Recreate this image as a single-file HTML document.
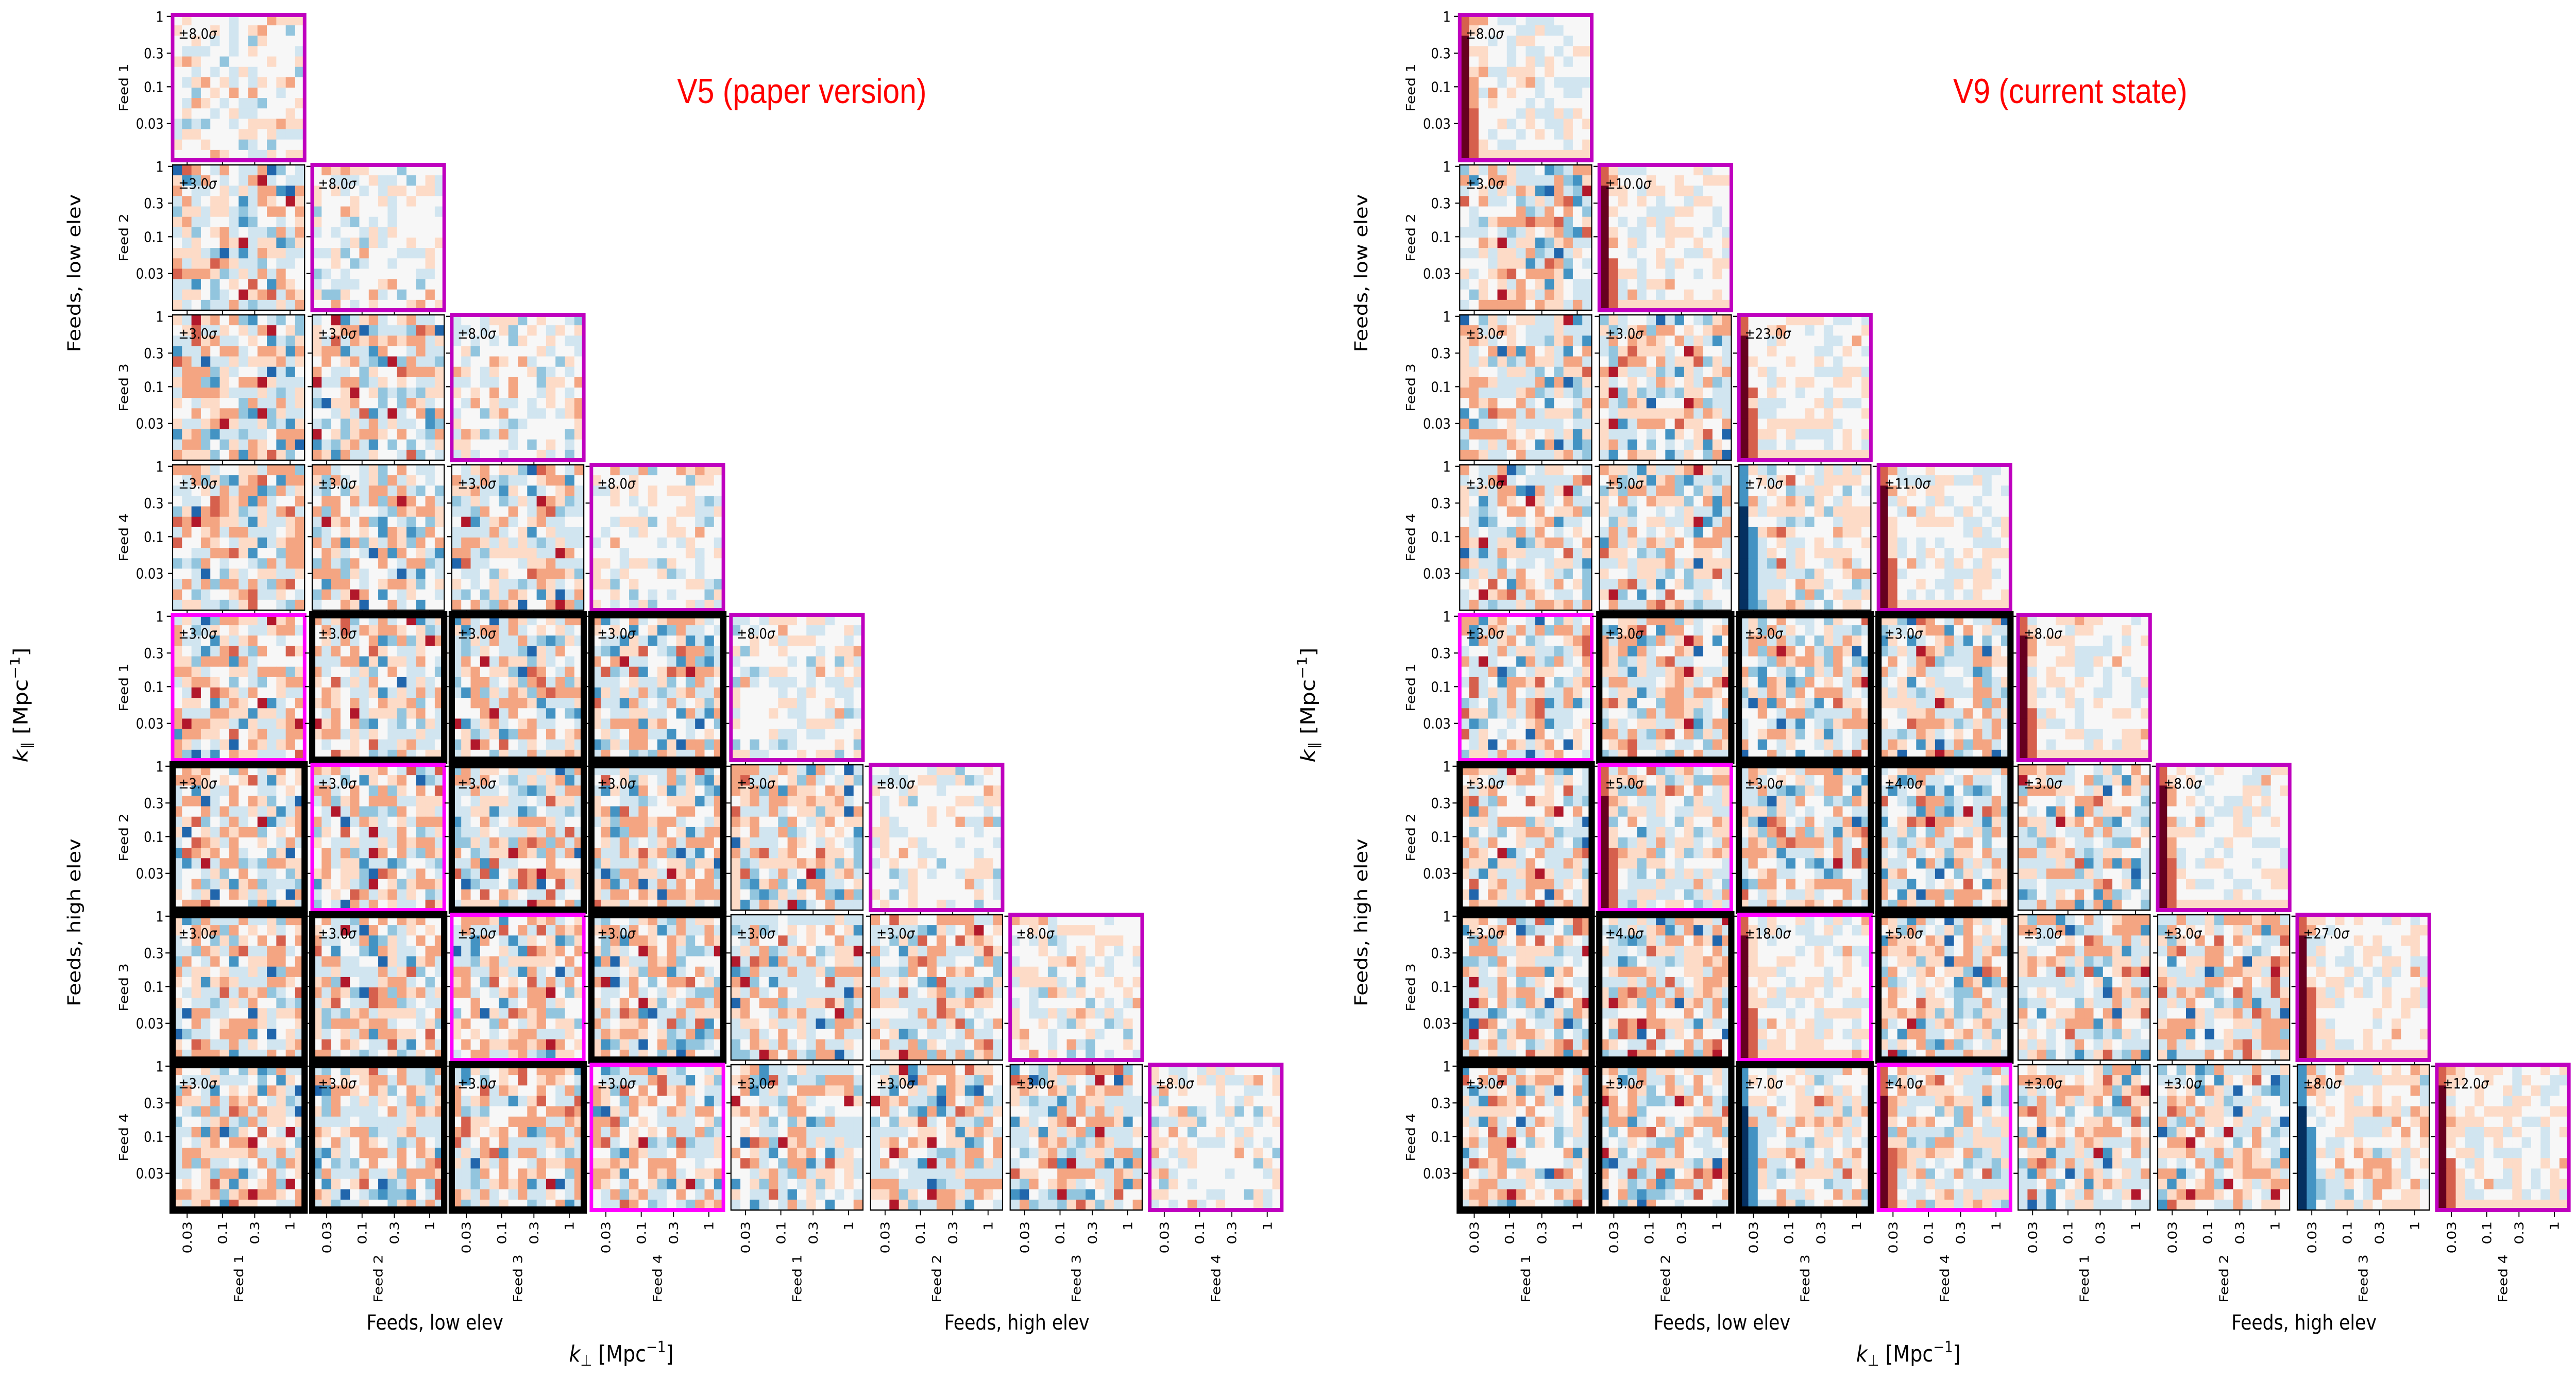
<!DOCTYPE html>
<html><head><meta charset="utf-8">
<style>
html,body{margin:0;padding:0;background:#fff;overflow:hidden;width:100vw;height:100vh;}
svg{display:block;width:100vw;height:100vh;font-family:"DejaVu Sans","Liberation Sans",sans-serif;}
</style></head>
<body>
<svg id="fig" xmlns="http://www.w3.org/2000/svg" viewBox="0 0 5776 2672" preserveAspectRatio="none">
<rect x="0" y="0" width="5776" height="2672" fill="#fff"/>
<text x="1798" y="200" font-family="Liberation Sans, sans-serif" font-size="68" fill="#ff0000" text-anchor="middle">V5 (paper version)</text>
<text x="4642" y="200" font-family="Liberation Sans, sans-serif" font-size="68" fill="#ff0000" text-anchor="middle">V9 (current state)</text>
</svg>
<script>
// ---- data ----
const feeds = ["Feed 1","Feed 2","Feed 3","Feed 4"];
const groupLabels = ["Feeds, low elev","Feeds, high elev"];
const yTickVals = [1, 0.3, 0.1, 0.03];
const yTickLabels = ["1","0.3","0.1","0.03"];
const xTickVals = [0.03, 0.1, 0.3, 1];
const xTickLabels = ["0.03","0.1","0.3","1"];
const sigmaV5 = [[8],[3,8],[3,3,8],[3,3,3,8],[3,3,3,3,8],[3,3,3,3,3,8],[3,3,3,3,3,3,8],[3,3,3,3,3,3,3,8]];
const sigmaV9 = [[8],[3,10],[3,3,23],[3,5,7,11],[3,3,3,3,8],[3,5,3,4,3,8],[3,4,18,5,3,3,27],[3,3,7,4,3,3,8,12]];
const patternV5 = ["L","NL","NNL","NNNL","NNNNL","NNNNNL","NNNNNNL","NNNNNNNL"];
const patternV9 = ["D","ND","NND","NNBD","NNNND","NRNNND","NNDNNND","NNBRNNBD"];
const noiseLevels = "fgehdfgiefhcgdfegjhdfeghcfdgeibfhgdfkegfdhcgefiahgdfegchfdgeihbfgedfhgjcdefgihdefcgfhbegidfhgecfkdgefhdgacfeighfdgebhfcgidefhgdjefgcdhfeigbfdhgecfgihdfaegfhdgjcefgdhifegbdhfcgefihdgkcfeghdbfigefhdcgjfedhgicfeghbdfgiehcfdgaefhgidcfjegdhfbgeifhdcgefkhgdfiebcghfdjegfhidcgefbhgdifeghcjdfgehibfdgcehfgadfeighdcfhgjebfdgihefcgdhkfegibdhfcgeifhdgjcefgbhdifegchfdagefhigdcbfjegh";
const palette = ["#053061","#2166ac","#4393c3","#92c5de","#d1e5f0","#f7f7f7","#fddbc7","#f4a582","#d6604d","#b2182b","#67001f"];

// ---- layout ----
const NS = "http://www.w3.org/2000/svg";
const svg = document.getElementById("fig");
const W = 296, H = 282, NC = 14;
const colLeft = c => 387 + 313*c;
const rowTop = r => 29 + 291*r;
const yFrac = v => 0.01 + (-Math.log10(v))/2.045*0.99;
const xFrac = v => 0.11 + (Math.log10(v) - Math.log10(0.03))/1.523*0.78;
function mk(tag, attrs, parent){const e=document.createElementNS(NS,tag);for(const k in attrs)e.setAttribute(k,attrs[k]);(parent||svg).appendChild(e);return e;}
const clamp = v => Math.max(-5, Math.min(5, v));

function cellValue(k, i, j, type){
  const ch = noiseLevels.charCodeAt((k*151 + i*29 + j*7 + ((i*j)%5)) % noiseLevels.length) - 97;
  let v = ch - 5;
  if (type === "L") return clamp(Math.round(v*0.4));
  if (type === "D") {
    if (j === 0) return i < 2 ? 3 : 5;
    if (j === 1) return i >= 9 ? 3 : clamp(Math.round(v*0.4)+1);
    let w = clamp(Math.round(v*0.3));
    if (i === 13 && w < 1) w = 1;
    return w;
  }
  if (type === "B") {
    if (j === 0) return i >= 4 ? -5 : -3;
    if (j === 1 && i >= 6) return -3;
    return clamp(Math.round(v*0.5));
  }
  if (type === "R") {
    if (j === 0) return i >= 3 ? 5 : 3;
    if (j === 1 && i >= 8) return 3;
    return clamp(Math.round(v*0.6));
  }
  return clamp(Math.round(v*0.75));
}

function drawPanel(px, sigma, pattern, pid){
  let k = 0;
  for (let r=0;r<8;r++){
    for (let c=0;c<=r;c++){
      const x = px + colLeft(c), y = rowTop(r);
      const type = pattern[r][c];
      const g = mk("g", {});
      
      
      const cw = W/NC, chh = H/NC;
      for (let i=0;i<NC;i++){
        for (let j=0;j<NC;j++){
          const v = cellValue(k + (pid==="v9"?37:0), i, j, type);
          const rc = mk("rect", {x:(x+j*cw).toFixed(2), y:(y+i*chh).toFixed(2), width:(cw+0.6).toFixed(2), height:(chh+0.6).toFixed(2), fill:palette[v+5]}, g);
          
          
        }
      }
      let stroke="#000", sw=2.5;
      if (r===c){stroke="#bf00bf"; sw=8;}
      else if (r>=4 && c<4 && r-4===c){stroke="#ff00ff"; sw=8;}
      else if (r>=4 && c<4){stroke="#000"; sw=14;}
      const b = mk("rect", {x:x, y:y, width:W, height:H, fill:"none", stroke:stroke, "stroke-width":sw}, g);
      
      
      const off = sw/2;
      yTickVals.forEach(v=>{
        const ty = y + yFrac(v)*H;
        mk("line",{x1:x-off, x2:x-off-9, y1:ty, y2:ty, stroke:"#000","stroke-width":2.2}, g);
      });
      xTickVals.forEach(v=>{
        const tx = x + xFrac(v)*W;
        mk("line",{x1:tx, x2:tx, y1:y+H+off, y2:y+H+off+9, stroke:"#000","stroke-width":2.2}, g);
      });
      const t = mk("text",{x:x+13, y:y+46, "font-size":28, fill:"#000", "font-family":"DejaVu Sans, sans-serif"}, g);
      
      
      t.textContent = "\u00b1" + sigma[r][c].toFixed(1);
      const ts = mk("tspan",{"font-style":"italic"}, t); ts.textContent = "\u03c3";
      if (c===0){
        yTickVals.forEach((v,ii)=>{
          const tl = mk("text",{x:x-20, y:y+yFrac(v)*H+10, "font-size":28, "text-anchor":"end", fill:"#000"});
          
          
          tl.textContent = yTickLabels[ii];
        });
        const fl = mk("text",{x:0,y:0,"font-size":28,"text-anchor":"middle",fill:"#000",transform:`translate(${x-100},${y+H/2}) rotate(-90)`});
        
        
        fl.textContent = feeds[r%4];
      }
      if (r===7){
        xTickVals.forEach((v,ii)=>{
          const tx = x + xFrac(v)*W;
          const xl = mk("text",{x:0,y:0,"font-size":28,"text-anchor":"end",fill:"#000",transform:`translate(${tx+10},${y+H+22}) rotate(-90)`});
          
          
          xl.textContent = xTickLabels[ii];
        });
        const cl = mk("text",{x:0,y:0,"font-size":28,"text-anchor":"middle",fill:"#000",transform:`translate(${x+W/2+10},${2481}) rotate(-90)`});
        
        
        cl.textContent = feeds[c%4];
      }
      k++;
    }
  }
  const gl1 = mk("text",{x:0,y:0,"font-size":40,"text-anchor":"middle",fill:"#000",transform:`translate(${px+180},530) rotate(-90)`});
  
  
  gl1.textContent = groupLabels[0];
  const gl2 = mk("text",{x:0,y:0,"font-size":40,"text-anchor":"middle",fill:"#000",transform:`translate(${px+180},1790) rotate(-90)`});
  
  
  gl2.textContent = groupLabels[1];
  const bl1 = mk("text",{x:px+975,y:2580,"font-size":40,"text-anchor":"middle",fill:"#000"});
  
  
  bl1.textContent = groupLabels[0];
  const bl2 = mk("text",{x:px+2280,y:2580,"font-size":40,"text-anchor":"middle",fill:"#000"});
  
  
  bl2.textContent = groupLabels[1];
  const kx = mk("text",{x:px+1393,y:2642,"font-size":44,"text-anchor":"middle",fill:"#000"});
  
  
  kx.innerHTML = '<tspan font-style="italic">k</tspan><tspan font-size="30" dy="8">\u22a5</tspan><tspan dy="-8"> [Mpc</tspan><tspan font-size="30" dy="-18">\u22121</tspan><tspan dy="18">]</tspan>';
  const ky = mk("text",{x:0,y:0,"font-size":44,"text-anchor":"middle",fill:"#000",transform:`translate(${px+62},1368) rotate(-90)`});
  
  
  ky.innerHTML = '<tspan font-style="italic">k</tspan><tspan font-size="30" dy="8">\u2225</tspan><tspan dy="-8"> [Mpc</tspan><tspan font-size="30" dy="-18">\u22121</tspan><tspan dy="18">]</tspan>';
}
drawPanel(0, sigmaV5, patternV5, "v5");
drawPanel(2886, sigmaV9, patternV9, "v9");
</script>
</body></html>
